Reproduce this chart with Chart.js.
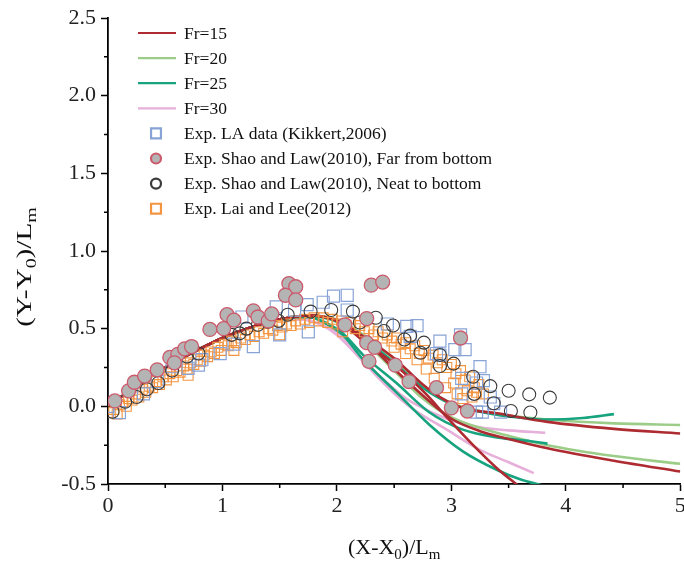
<!DOCTYPE html>
<html lang="en">
<head>
<meta charset="UTF-8">
<title>Trajectory - Fr comparison</title>
<script src="https://cdn.jsdelivr.net/npm/chart.js"></script>
<style>
  html, body { margin: 0; background: #fff; overflow: hidden; }
  canvas { display: block; }
</style>
</head>
<body>
<!-- a little wider than the window: the cut "5" on the x axis is part of the picture -->
<canvas id="chart" width="690" height="563"></canvas>
<script>
    const SERIF = "'Liberation Serif', 'Times New Roman', 'DejaVu Serif', serif";

    // shared rising part of all simulated curves
    const rise = [[0,0],[0.25,0.13],[0.5,0.25],[0.75,0.35],[1.0,0.44],[1.25,0.51],[1.5,0.56]];

    // Fr=15
    const fr15a = [[1.75,0.585],[2.0,0.555],[2.25,0.44],[2.5,0.31],[2.75,0.14],[2.9,0.06],[3.1,-0.01],[3.4,-0.045],[3.84,-0.10],[4.42,-0.145],[5.0,-0.175]];
    const fr15b = [[1.75,0.585],[2.0,0.55],[2.25,0.42],[2.5,0.24],[2.75,0.07],[3.0,-0.08],[3.25,-0.16],[3.5,-0.21],[3.84,-0.27],[4.42,-0.35],[5.0,-0.42]];
    const fr15c = [[1.75,0.585],[2.0,0.55],[2.25,0.41],[2.52,0.26],[2.79,0.07],[2.96,-0.07],[3.19,-0.25],[3.4,-0.40],[3.6,-0.52]];
    // Fr=20
    const fr20a = [[1.75,0.585],[2.0,0.56],[2.25,0.45],[2.5,0.30],[2.75,0.13],[3.0,0.02],[3.25,-0.03],[3.5,-0.06],[3.84,-0.085],[4.42,-0.11],[5.0,-0.12]];
    const fr20b = [[1.75,0.585],[2.0,0.55],[2.25,0.41],[2.5,0.23],[2.75,0.05],[3.0,-0.07],[3.25,-0.14],[3.5,-0.19],[3.84,-0.25],[4.42,-0.32],[5.0,-0.37]];
    // Fr=25
    const fr25a = [[1.75,0.58],[2.0,0.545],[2.25,0.43],[2.5,0.28],[2.75,0.12],[3.0,0.015],[3.25,-0.035],[3.5,-0.065],[3.84,-0.085],[4.15,-0.075],[4.42,-0.05]];
    const fr25b = [[1.75,0.575],[1.9,0.54],[2.05,0.47],[2.23,0.33],[2.52,0.15],[2.81,-0.04],[3.1,-0.15],[3.4,-0.20],[3.69,-0.225],[3.84,-0.24]];
    const fr25c = [[1.75,0.575],[1.9,0.535],[2.05,0.46],[2.23,0.30],[2.52,0.09],[2.81,-0.12],[3.1,-0.29],[3.4,-0.41],[3.6,-0.47],[3.8,-0.51]];
    // Fr=30
    const fr30a = [[1.7,0.56],[1.85,0.53],[2.0,0.47],[2.2,0.32],[2.38,0.19],[2.55,0.08],[2.67,0.02],[2.96,-0.08],[3.25,-0.135],[3.5,-0.155],[3.82,-0.17]];
    const fr30b = [[1.7,0.56],[1.85,0.53],[2.0,0.46],[2.2,0.31],[2.38,0.17],[2.52,0.07],[2.67,-0.02],[2.96,-0.15],[3.25,-0.28],[3.5,-0.36],[3.72,-0.43]];

    // Exp. LA data (Kikkert, 2006)
    const kikkert = [[0.0,0.0],[0.10,-0.04],[0.31,0.08],[0.43,0.16],[0.56,0.255],[0.70,0.245],[0.79,0.265],[0.82,0.30],[0.98,0.34],[1.10,0.40],[1.17,0.575],[1.27,0.385],[1.47,0.64],[1.50,0.46],[1.63,0.62],[1.74,0.655],[1.75,0.48],[1.88,0.67],[1.97,0.71],[2.09,0.715],[2.09,0.62],[2.44,0.53],[2.61,0.515],[2.64,0.45],[2.70,0.52],[2.87,0.34],[2.90,0.42],[2.90,0.33],[3.03,0.365],[3.08,0.46],[3.09,0.18],[3.09,0.08],[3.12,0.365],[3.22,0.15],[3.25,0.255],[3.28,0.165],[3.34,0.06],[3.37,0.017],[3.22,-0.037],[3.43,-0.037],[3.27,-0.037]];
    // Exp. Shao and Law (2010), far from bottom
    const shaoFar = [[0.06,0.035],[0.18,0.10],[0.23,0.155],[0.32,0.195],[0.43,0.235],[0.54,0.315],[0.61,0.335],[0.58,0.28],[0.67,0.37],[0.73,0.385],[0.89,0.495],[1.01,0.50],[1.04,0.59],[1.10,0.555],[1.27,0.615],[1.31,0.575],[1.40,0.55],[1.43,0.595],[1.58,0.79],[1.64,0.77],[1.55,0.715],[1.64,0.685],[2.07,0.525],[2.26,0.565],[2.26,0.41],[2.33,0.38],[2.28,0.29],[2.51,0.265],[2.63,0.16],[2.87,0.12],[3.0,-0.01],[3.14,-0.03],[3.08,0.44],[2.30,0.78],[2.40,0.80]];
    // Exp. Shao and Law (2010), near bottom
    const shaoNear = [[0.04,-0.035],[0.15,0.03],[0.25,0.06],[0.34,0.11],[0.44,0.15],[0.56,0.23],[0.69,0.32],[0.79,0.34],[1.08,0.46],[1.15,0.47],[1.21,0.50],[1.31,0.525],[1.40,0.545],[1.49,0.55],[1.57,0.59],[1.77,0.61],[1.95,0.62],[2.14,0.61],[2.20,0.54],[2.34,0.57],[2.41,0.485],[2.49,0.52],[2.59,0.43],[2.64,0.455],[2.73,0.345],[2.76,0.41],[2.90,0.33],[2.90,0.26],[3.02,0.275],[3.19,0.19],[3.20,0.08],[3.34,0.13],[3.37,0.02],[3.50,0.10],[3.52,-0.03],[3.68,0.077],[3.69,-0.04],[3.86,0.056]];
    // Exp. Lai and Lee (2012)
    const laiLee = [[0.02,-0.04],[0.05,-0.02],[0.08,-0.05],[0.10,0.01],[0.13,0.03],[0.16,0.00],[0.18,0.05],[0.21,0.04],[0.24,0.08],[0.27,0.06],[0.30,0.11],[0.33,0.09],[0.36,0.13],[0.39,0.12],[0.42,0.16],[0.45,0.14],[0.48,0.19],[0.51,0.17],[0.54,0.21],[0.57,0.19],[0.60,0.23],[0.63,0.22],[0.66,0.26],[0.69,0.24],[0.72,0.28],[0.75,0.27],[0.78,0.30],[0.81,0.29],[0.84,0.33],[0.87,0.32],[0.90,0.35],[0.93,0.34],[0.96,0.38],[0.99,0.36],[1.02,0.40],[1.05,0.39],[1.08,0.42],[1.12,0.41],[1.16,0.44],[1.20,0.43],[1.24,0.46],[1.28,0.45],[1.32,0.48],[1.36,0.47],[1.40,0.50],[1.44,0.49],[1.48,0.52],[1.52,0.51],[1.56,0.53],[1.60,0.52],[1.64,0.55],[1.68,0.53],[1.72,0.56],[1.76,0.54],[1.80,0.57],[1.84,0.55],[1.88,0.57],[1.92,0.54],[1.96,0.56],[2.00,0.53],[2.04,0.55],[2.08,0.52],[2.12,0.54],[2.16,0.50],[2.20,0.52],[2.24,0.48],[2.28,0.50],[2.32,0.46],[2.36,0.48],[2.40,0.44],[2.44,0.46],[2.48,0.42],[2.52,0.44],[2.56,0.40],[2.60,0.41],[2.64,0.37],[2.68,0.39],[2.72,0.34],[2.76,0.36],[2.80,0.31],[2.84,0.33],[2.88,0.28],[2.92,0.30],[2.96,0.25],[3.00,0.27],[3.04,0.21],[3.08,0.23],[3.12,0.17],[3.16,0.19],[3.20,0.12],[3.24,0.14],[3.28,0.08],[3.14,0.10],[3.02,0.15],[2.70,0.30],[2.50,0.38],[1.50,0.46],[1.10,0.36],[0.70,0.20],[2.05,0.48],[3.05,0.08],[3.10,0.05],[3.18,0.06],[2.95,0.12],[2.85,0.18],[3.22,0.09],[2.78,0.24],[2.60,0.34]];

    const xMinorTicks = [0.5, 1.5, 2.5, 3.5, 4.5];
    const yMinorTicks = [-0.25, 0.25, 0.75, 1.25, 1.75, 2.25];

    const toXY = arr => arr.map(p => ({x: p[0], y: p[1]}));

    const curve = (label, pts, color, inLegend, order) => ({
        label: label,
        data: toXY(rise.concat(pts)),
        showLine: true,
        borderColor: color,
        backgroundColor: color,
        borderWidth: 2.6,
        pointRadius: 0,
        cubicInterpolationMode: 'monotone',
        inLegend: inLegend,
        order: order
    });

    const datasets = [
        curve('Fr=15', fr15a, '#ad2b31', true, 10),
        curve('Fr=20', fr20a, '#9ccd88', true, 13),
        curve('Fr=25', fr25a, '#17a37e', true, 12),
        curve('Fr=30', fr30a, '#e6b0da', true, 14),
        {
            label: 'Exp. LA data (Kikkert,2006)', data: toXY(kikkert),
            pointStyle: 'rect', pointRadius: 8.5, borderWidth: 1.2,
            borderColor: '#88a3d6', backgroundColor: 'rgba(0,0,0,0)', inLegend: true, order: 2
        },
        {
            label: 'Exp. Shao and Law(2010), Far from bottom', data: toXY(shaoFar),
            pointStyle: 'circle', pointRadius: 7, borderWidth: 1.3,
            borderColor: '#cc5a6c', backgroundColor: '#b4b4b4', inLegend: true, order: 0
        },
        {
            label: 'Exp. Shao and Law(2010), Neat to bottom', data: toXY(shaoNear),
            pointStyle: 'circle', pointRadius: 6.5, borderWidth: 1.1,
            borderColor: '#3a3a3a', backgroundColor: 'rgba(0,0,0,0)', inLegend: true, order: 1
        },
        {
            label: 'Exp. Lai and Lee(2012)', data: toXY(laiLee),
            pointStyle: 'rect', pointRadius: 7, borderWidth: 1.1,
            borderColor: '#f39440', backgroundColor: 'rgba(0,0,0,0)', inLegend: true, order: 3
        },
        curve('Fr=15 b', fr15b, '#ad2b31', false, 10),
        curve('Fr=15 c', fr15c, '#ad2b31', false, 10),
        curve('Fr=20 b', fr20b, '#9ccd88', false, 13),
        curve('Fr=25 b', fr25b, '#17a37e', false, 12),
        curve('Fr=25 c', fr25c, '#17a37e', false, 12),
        curve('Fr=30 b', fr30b, '#e6b0da', false, 14)
    ];

    // text with subscripts, e.g. [['(Y-Y'],['0',1],[')/L'],['m',1]]
    function drawSubText(ctx, parts, cx, cy, size) {
        const big = size + 'px ' + SERIF, small = Math.round(size * 0.68) + 'px ' + SERIF;
        let w = 0;
        parts.forEach(p => { ctx.font = p[1] ? small : big; w += ctx.measureText(p[0]).width; });
        let x = cx - w / 2;
        ctx.textAlign = 'left';
        ctx.textBaseline = 'alphabetic';
        parts.forEach(p => {
            ctx.font = p[1] ? small : big;
            ctx.fillText(p[0], x, cy + (p[1] ? size * 0.22 : 0));
            x += ctx.measureText(p[0]).width;
        });
    }

    const paperPlugin = {
        id: 'paper',
        afterDraw(chart) {
            const ctx = chart.ctx;
            const xs = chart.scales.x, ys = chart.scales.y;
            const area = chart.chartArea;
            ctx.save();
            // minor ticks
            ctx.strokeStyle = '#000';
            ctx.lineWidth = 1.5;
            ctx.beginPath();
            xMinorTicks.forEach(v => {
                const px = xs.getPixelForValue(v);
                ctx.moveTo(px, area.bottom);
                ctx.lineTo(px, area.bottom + 4);
            });
            yMinorTicks.forEach(v => {
                const py = ys.getPixelForValue(v);
                ctx.moveTo(area.left, py);
                ctx.lineTo(area.left - 4, py);
            });
            ctx.stroke();

            // axis titles
            ctx.fillStyle = '#111';
            drawSubText(ctx, [['(X-X'], ['0', 1], [')/L'], ['m', 1]], (area.left + area.right) / 2, 554, 22);
            ctx.save();
            ctx.translate(31, 267);
            ctx.rotate(-Math.PI / 2);
            ctx.scale(1.33, 1);
            drawSubText(ctx, [['(Y-Y'], ['0', 1], [')/L'], ['m', 1]], 0, 0, 22);
            ctx.restore();

            // legend
            let rowY = 33;
            chart.data.datasets.forEach(ds => {
                if (!ds.inLegend) return;
                if (ds.showLine) {
                    ctx.strokeStyle = ds.borderColor;
                    ctx.lineWidth = 2.2;
                    ctx.beginPath();
                    ctx.moveTo(138, rowY);
                    ctx.lineTo(176, rowY);
                    ctx.stroke();
                } else {
                    ctx.strokeStyle = ds.borderColor;
                    ctx.fillStyle = ds.backgroundColor;
                    Chart.helpers.drawPoint(ctx, {
                        pointStyle: ds.pointStyle,
                        radius: ds.pointStyle === 'rect' ? 7 : 5,
                        rotation: 0,
                        borderWidth: 1.1
                    }, 156, rowY);
                }
                ctx.fillStyle = '#111';
                ctx.font = '17.5px ' + SERIF;
                ctx.textAlign = 'left';
                ctx.textBaseline = 'middle';
                ctx.fillText(ds.label, 184, rowY + 1);
                rowY += 25.1;
            });
            ctx.restore();
        }
    };

    const tickFont = {family: SERIF, size: 22};

    new Chart(document.getElementById('chart'), {
        type: 'scatter',
        data: {datasets: datasets},
        options: {
            responsive: false,
            animation: false,
            layout: {padding: {top: 18, right: 0, bottom: 0, left: 0}},
            plugins: {legend: {display: false}, tooltip: {enabled: false}},
            scales: {
                x: {
                    type: 'linear', min: 0, max: 5,
                    ticks: {stepSize: 1, color: '#222', font: tickFont, padding: 2, maxRotation: 0},
                    grid: {drawOnChartArea: false, tickLength: 7, tickWidth: 1.5, tickColor: '#000'},
                    border: {color: '#000', width: 1.8},
                    afterFit(s) { s.height = 79; s.paddingRight = 0; s.paddingLeft = 0; }
                },
                y: {
                    type: 'linear', min: -0.5, max: 2.5,
                    ticks: {stepSize: 0.5, color: '#222', font: tickFont, padding: 5,
                        callback: v => v.toFixed(1)},
                    grid: {drawOnChartArea: false, tickLength: 7, tickWidth: 1.5, tickColor: '#000'},
                    border: {color: '#000', width: 1.8},
                    afterFit(s) { s.width = 108; s.paddingTop = 0; s.paddingBottom = 0; }
                }
            }
        },
        plugins: [paperPlugin]
    });
</script>
</body>
</html>
